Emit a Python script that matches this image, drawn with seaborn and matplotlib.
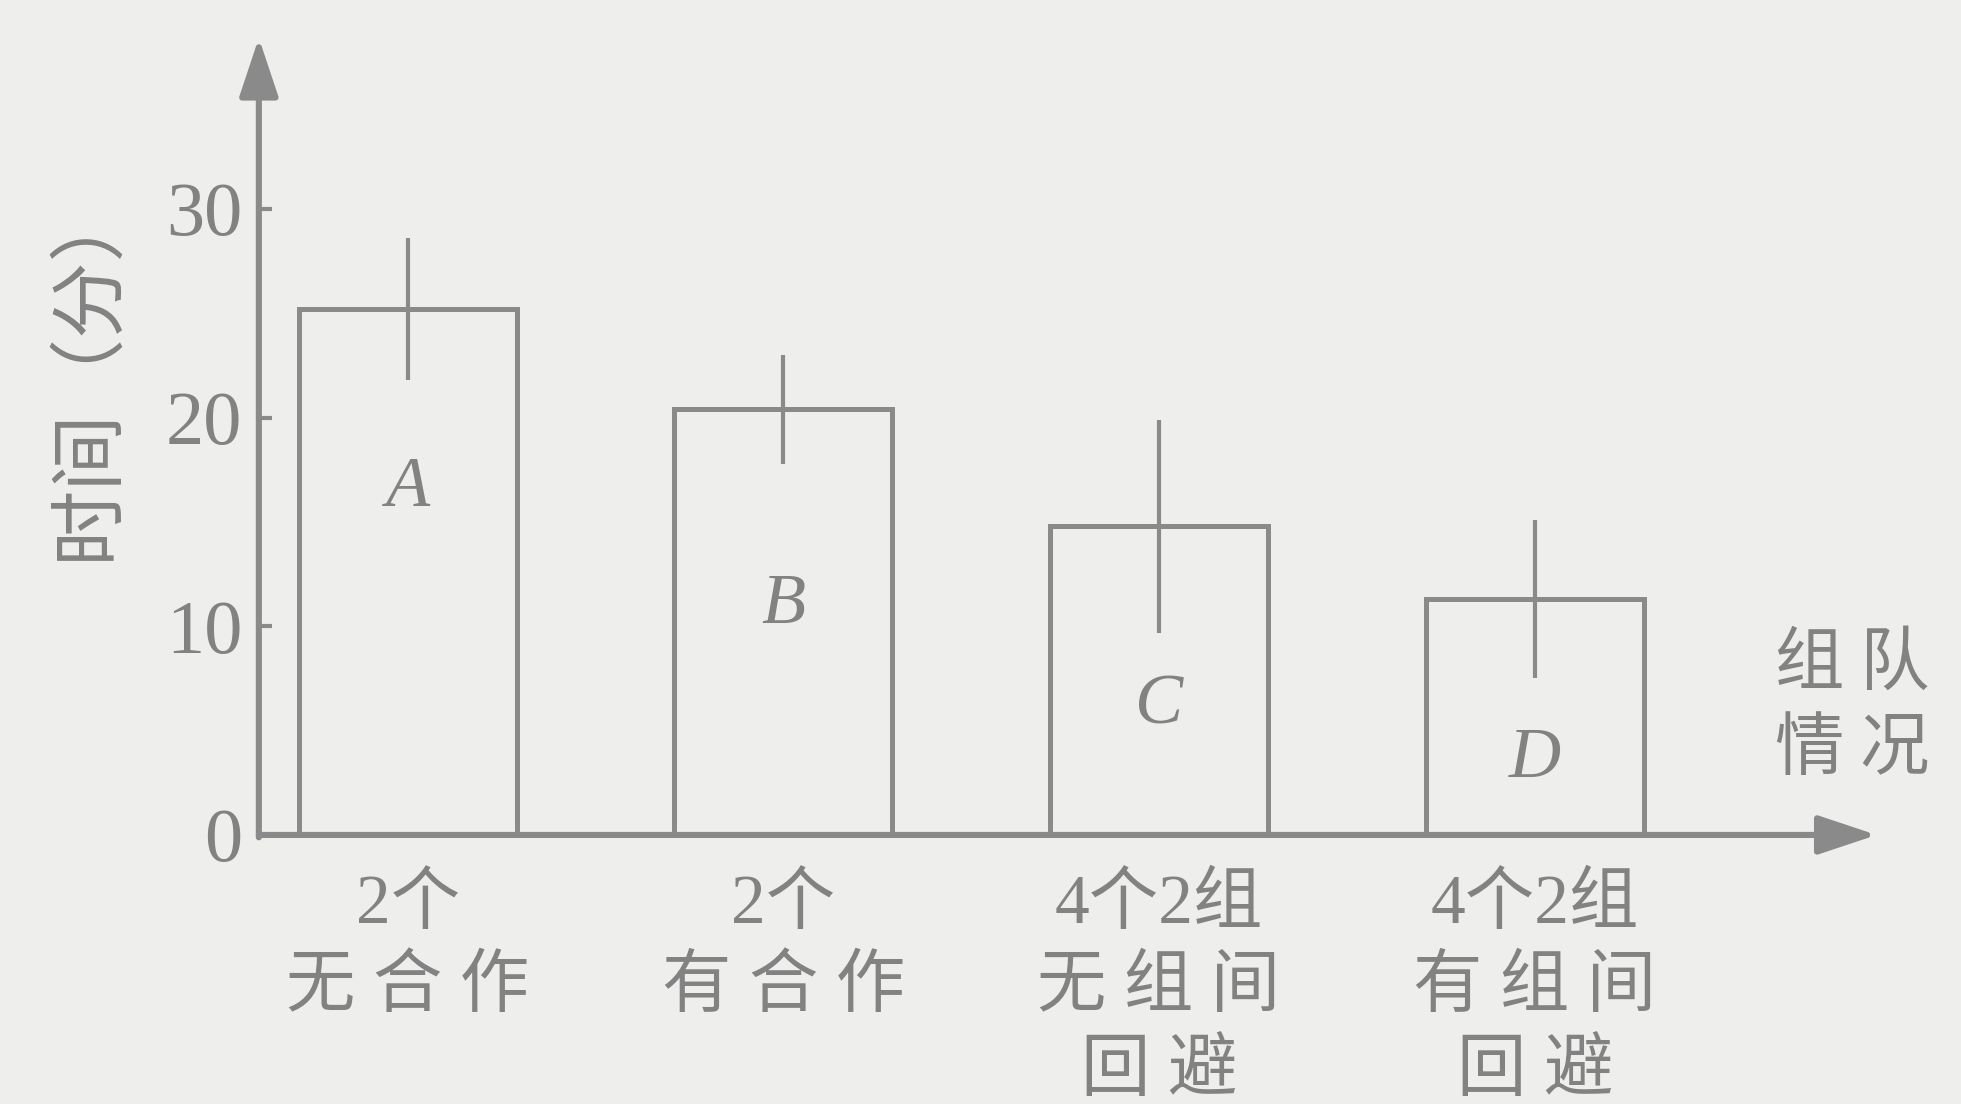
import matplotlib.pyplot as plt
import numpy as np
import pandas as pd
import seaborn as sns

# data (minutes)
groups = ["2个\n无 合 作", "2个\n有 合 作",
          "4个2组\n无 组 间\n回 避", "4个2组\n有 组 间\n回 避"]
letters = ["A", "B", "C", "D"]
times = [25.2, 20.4, 14.8, 11.3]
errors = [3.4, 2.6, 5.1, 3.8]
y_ticks = [0, 10, 20, 30]

# where the letters sit inside each bar
letter_y = [16.6, 11.0, 6.2, 3.6]

paper = '#eeeeec'
ink = '#8a8a8a'
text_ink = '#828282'

sns.set_style("white")
plt.rcParams['font.family'] = ['Noto Sans CJK SC', 'DejaVu Sans']

fig = plt.figure(figsize=(19.61, 11.04), dpi=100, facecolor=paper)
ax = fig.add_axes([0.132, 0.2437, 0.825, 0.722])
ax.set_facecolor('none')

df = pd.DataFrame({'group': groups, 'time': times})
sns.barplot(data=df, x='group', y='time', ax=ax, width=0.58, color=paper,
            saturation=1, edgecolor=ink, linewidth=3.6, errorbar=None)
ax.errorbar(np.arange(len(groups)), times, yerr=errors, fmt='none',
            ecolor=ink, elinewidth=3.0, capsize=0, zorder=3)

for i, (lt, ly) in enumerate(zip(letters, letter_y)):
    ax.text(i, ly, lt, ha='center', va='center', fontsize=52,
            family='Liberation Serif', style='italic', color=text_ink)

ax.set_xlim(-0.396, 3.91)
ax.set_ylim(0, 38.2)
sns.despine(ax=ax, left=True, bottom=True)

# axes drawn as arrows
arrow = dict(arrowstyle='-|>,head_length=0.9,head_width=0.3', mutation_scale=40,
             lw=4.4, color=ink, shrinkA=0, shrinkB=0)
ax.annotate('', xy=(0, 1), xytext=(0, -0.003), xycoords='axes fraction',
            arrowprops=arrow, annotation_clip=False)
ax.annotate('', xy=(1, 0), xytext=(0, 0), xycoords='axes fraction',
            arrowprops=arrow, annotation_clip=False)

ax.set_yticks(y_ticks)
ax.tick_params(axis='y', left=True, direction='in', length=9, width=3,
               color=ink, pad=12, labelsize=55, labelcolor=text_ink)
for lbl in ax.get_yticklabels():
    lbl.set_family('Liberation Serif')

ax.tick_params(axis='x', bottom=False, length=0, pad=28, labelsize=50,
               labelcolor=text_ink)
for lbl in ax.get_xticklabels():
    lbl.set_family(['Liberation Serif', 'Noto Sans CJK SC'])
    lbl.set_linespacing(1.38)

ax.set_xlabel('组 队\n情 况', fontsize=50, color=text_ink, linespacing=1.25)
ax.xaxis.set_label_coords(0.985, 0.161)
ax.xaxis.label.set_va('center')
ax.set_ylabel('时间（分）', fontsize=55, color=text_ink)
ax.yaxis.set_label_coords(-0.106, 0.584)
ax.yaxis.label.set_va('center')

fig.savefig('out.png', dpi=100, facecolor=paper)
